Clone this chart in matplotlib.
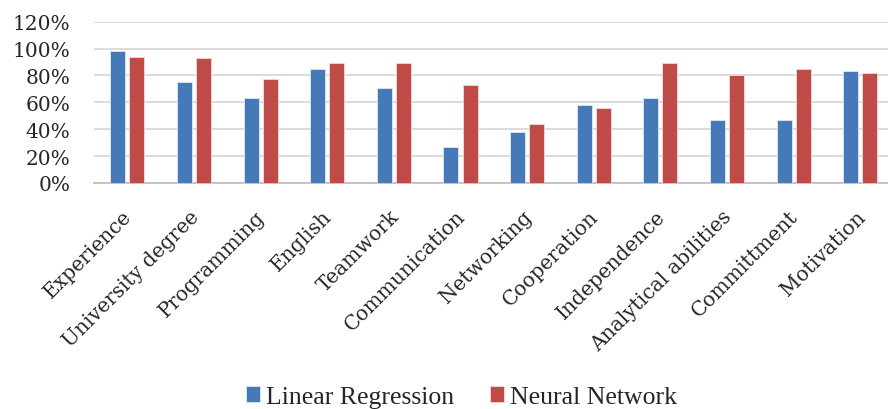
import matplotlib
matplotlib.use("Agg")
import matplotlib.pyplot as plt
import matplotlib.transforms as mtransforms
import numpy as np

categories = ["Experience", "University degree", "Programming", "English",
              "Teamwork", "Communication", "Networking", "Cooperation",
              "Independence", "Analytical abilities", "Committment", "Motivation"]
linear_regression = [0.98, 0.75, 0.63, 0.85, 0.71, 0.27, 0.38, 0.58, 0.63, 0.47, 0.47, 0.83]
neural_network = [0.94, 0.93, 0.77, 0.89, 0.89, 0.73, 0.44, 0.56, 0.89, 0.80, 0.85, 0.82]
y_ticks = [0.0, 0.2, 0.4, 0.6, 0.8, 1.0, 1.2]
y_tick_labels = ["0%", "20%", "40%", "60%", "80%", "100%", "120%"]

plt.rcParams["font.family"] = ["DejaVu Serif"]

W, H = 888, 410
fig = plt.figure(figsize=(W / 100, H / 100), dpi=100)
ax = fig.add_axes([94 / W, 1 - 184 / H, (W - 94) / W, 161.3 / H])

x = np.arange(len(categories))
bw = 0.225
off = 0.143
blue = "#4579B8"
red = "#BE4B48"
ax.bar(x - off, linear_regression, bw, color=blue, edgecolor="#dfe8f4",
       linewidth=0.6, label="Linear Regression", zorder=3)
ax.bar(x + off, neural_network, bw, color=red, edgecolor="#f2dcdb",
       linewidth=0.6, label="Neural Network", zorder=3)

ax.set_xlim(-0.5, -0.5 + (W - 94) / 66.64)
ax.set_ylim(0, 1.2)
ax.set_yticks(y_ticks)
ax.set_yticklabels(y_tick_labels, fontsize=14.5, color="#262626")
ax.yaxis.grid(True, color="#d9d9d9", linewidth=1.3, zorder=0)
ax.set_axisbelow(True)
for s in ["top", "right", "left"]:
    ax.spines[s].set_visible(False)
ax.spines["bottom"].set_color("#bfbfbf")
ax.spines["bottom"].set_linewidth(1.3)
ax.tick_params(axis="both", length=0)
ax.tick_params(axis="y", pad=17)
ax.tick_params(axis="x", pad=17)

ax.set_xticks(x)
ax.set_xticklabels(categories, fontsize=14.5, color="#262626", rotation=45,
                   ha="right", va="top", rotation_mode="anchor")
shift = mtransforms.ScaledTranslation(-5 / 100, 0, fig.dpi_scale_trans)
for lbl in ax.get_xticklabels():
    lbl.set_transform(lbl.get_transform() + shift)

fs = 18.5
px = fs * 100 / 72
fig.legend(loc="center", bbox_to_anchor=(461.5 / W, 1 - 398 / H), ncol=2,
           frameon=False, prop={"family": "Liberation Serif", "size": fs},
           handlelength=14 / px, handleheight=14 / px,
           handletextpad=6 / px, columnspacing=35 / px, labelcolor="#262626")

fig.savefig("out.png", dpi=100)
